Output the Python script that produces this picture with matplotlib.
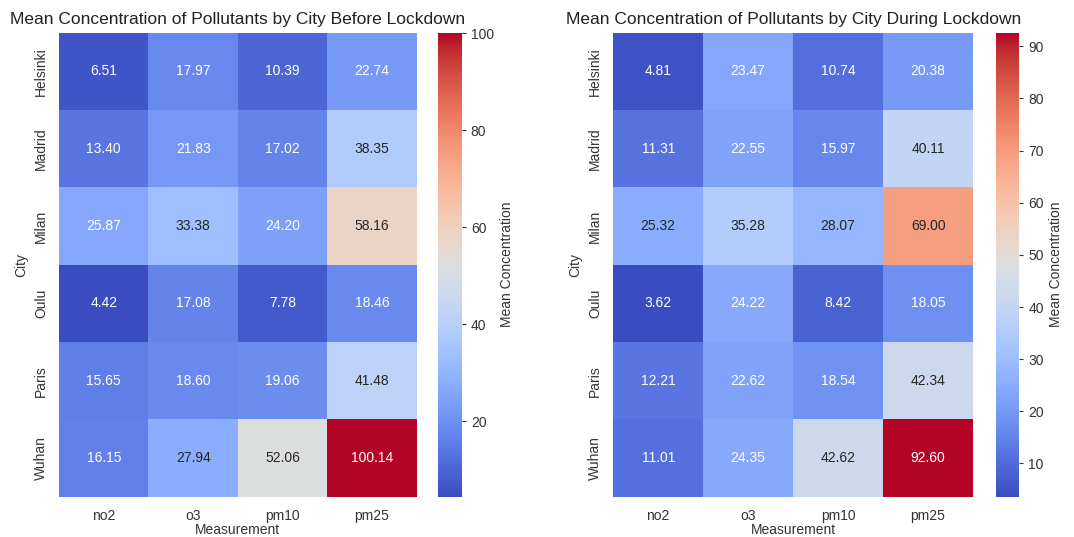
import numpy as np
import pandas as pd
import seaborn as sns
import matplotlib.pyplot as plt

cities = ["Helsinki", "Madrid", "Milan", "Oulu", "Paris", "Wuhan"]
measurements = ["no2", "o3", "pm10", "pm25"]

# mean values per city, columns follow measurements
before_no2 = [6.51, 13.40, 25.87, 4.42, 15.65, 16.15]
before_o3 = [17.97, 21.83, 33.38, 17.08, 18.60, 27.94]
before_pm10 = [10.39, 17.02, 24.20, 7.78, 19.06, 52.06]
before_pm25 = [22.74, 38.35, 58.16, 18.46, 41.48, 100.14]

during_no2 = [4.81, 11.31, 25.32, 3.62, 12.21, 11.01]
during_o3 = [23.47, 22.55, 35.28, 24.22, 22.62, 24.35]
during_pm10 = [10.74, 15.97, 28.07, 8.42, 18.54, 42.62]
during_pm25 = [20.38, 40.11, 69.00, 18.05, 42.34, 92.60]

before = pd.DataFrame(
    np.column_stack([before_no2, before_o3, before_pm10, before_pm25]),
    index=pd.Index(cities, name="City"),
    columns=pd.Index(measurements, name="Measurement"),
)
during = pd.DataFrame(
    np.column_stack([during_no2, during_o3, during_pm10, during_pm25]),
    index=pd.Index(cities, name="City"),
    columns=pd.Index(measurements, name="Measurement"),
)

sns.set_style("white")
plt.rcParams["font.family"] = ["Liberation Sans", "DejaVu Sans"]

fig = plt.figure(figsize=(10.74, 5.37), dpi=100)

def draw(df, rect, cbar_rect, title):
    ax = fig.add_axes(rect)
    cax = fig.add_axes(cbar_rect)
    sns.heatmap(df, annot=True, fmt=".2f", cmap="coolwarm", ax=ax, cbar_ax=cax,
                annot_kws={"fontsize": 10},
                cbar_kws={"label": "Mean Concentration"})
    ax.set_title(title, fontsize=12.5, color="#222222", pad=6)
    ax.set_xlabel("Measurement", fontsize=10, color="#333333", labelpad=0)
    ax.set_ylabel("City", fontsize=10, color="#333333")
    ax.tick_params(axis="x", labelsize=10, colors="#333333", length=0, pad=9)
    ax.tick_params(axis="y", labelsize=10, colors="#333333", length=0, pad=8,
                   rotation=90)
    for t in ax.get_yticklabels():
        t.set_va("center")
    cax.tick_params(labelsize=10, colors="#333333", length=3)
    cax.yaxis.label.set_size(10)
    cax.yaxis.label.set_color("#333333")

draw(before, [0.055, 0.075, 0.333, 0.864], [0.408, 0.075, 0.022, 0.864],
     "Mean Concentration of Pollutants by City Before Lockdown")
draw(during, [0.571, 0.075, 0.335, 0.864], [0.927, 0.075, 0.022, 0.864],
     "Mean Concentration of Pollutants by City During Lockdown")

fig.savefig("out.png", dpi=100)
